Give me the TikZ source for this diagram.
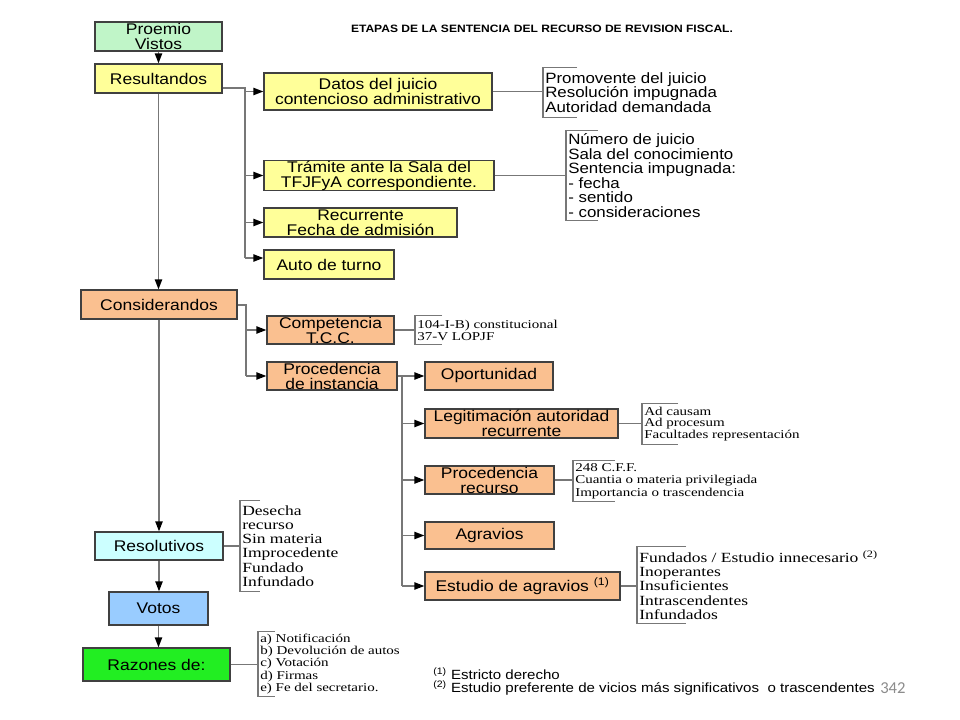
\documentclass[tikz,border=0pt]{standalone}
\usepackage{fontspec}
\setmainfont{Liberation Sans}
\newfontfamily\sfb[FakeStretch=1.13]{Liberation Sans}
\newfontfamily\srb[FakeStretch=1.25]{Liberation Serif}
\newfontfamily\pnum{Carlito}
\usetikzlibrary{arrows.meta}
\definecolor{boxline}{HTML}{404040}
\definecolor{linegray}{HTML}{777777}
\definecolor{ylw}{HTML}{FFFF99}
\definecolor{org}{HTML}{FAC090}
\definecolor{mint}{HTML}{C0F5C8}
\definecolor{cyanl}{HTML}{CCFFFF}
\definecolor{bluel}{HTML}{99CCFF}
\definecolor{grn}{HTML}{22EE22}
\definecolor{pgray}{HTML}{8C8C8C}
\begin{document}
\begin{tikzpicture}[x=0.75pt,y=-0.75pt,
  box/.style={draw=boxline,line width=1pt,inner sep=0pt,align=center,
    font=\sfb\fontsize{11.6}{11.25}\selectfont},
  conn/.style={draw=linegray,line width=1.1pt},
  arr/.style={conn,-{Triangle[length=7.5pt,width=5.5pt,color=black]}},
  lst/.style={anchor=west,align=left,inner xsep=1.5pt,inner ysep=0pt},
  sanslist/.style={lst,font=\sfb\fontsize{11.2}{10.9}\selectfont},
  serifbig/.style={lst,font=\srb\fontsize{10.5}{10.7}\selectfont},
  serifsmall/.style={lst,font=\srb\fontsize{9}{9}\selectfont}]
\fill[white] (0,0) rectangle (960,720);
\useasboundingbox (0,0) rectangle (960,720);

% title
\node[inner sep=0,font=\sfb\bfseries\fontsize{8}{9.6}\selectfont] (title) at (542,29) {ETAPAS DE LA SENTENCIA DEL RECURSO DE REVISION FISCAL.};

% main column
\node[box,fill=mint,minimum width=95.25pt,minimum height=21.75pt] (proemio) at (158.5,36.5) {Proemio\\Vistos};
\node[box,fill=ylw,minimum width=95.25pt,minimum height=21.75pt] (result) at (158.5,78.5) {Resultandos};
\node[box,fill=org,minimum width=117pt,minimum height=21.75pt] (consid) at (159,304.5) {Considerandos};
\node[box,fill=cyanl,minimum width=96pt,minimum height=21pt] (resol) at (159,546) {Resolutivos};
\node[box,fill=bluel,minimum width=74.25pt,minimum height=24.75pt] (votos) at (158.5,608.5) {Votos};
\node[box,fill=grn,minimum width=110.25pt,minimum height=24.75pt] (razones) at (156.5,664.5) {Razones de:};

% resultandos branch
\node[box,fill=ylw,minimum width=171pt,minimum height=27.75pt] (datos) at (378,91.5) {Datos del juicio\\contencioso administrativo};
\node[box,fill=ylw,minimum width=172.5pt,minimum height=21.75pt] (tramite) at (379,175.5) {Trámite ante la Sala del\\TFJFyA correspondiente.};
\node[box,fill=ylw,minimum width=144.75pt,minimum height=21.75pt] (recurr) at (360.5,222.5) {Recurrente\\Fecha de admisión};
\node[box,fill=ylw,minimum width=97.5pt,minimum height=21.75pt] (auto) at (329,264.5) {Auto de turno};

% considerandos branch
\node[box,fill=org,minimum width=95.25pt,minimum height=21pt] (compet) at (330.5,330) {Competencia\\T.C.C.};
\node[box,fill=org,minimum width=97.5pt,minimum height=21pt] (proced) at (332,376) {Procedencia\\de instancia};
\node[box,fill=org,minimum width=96pt,minimum height=21pt] (oport) at (489,376) {Oportunidad};
\node[box,fill=org,minimum width=144.75pt,minimum height=21.75pt] (legit) at (521.5,423.5) {Legitimación autoridad\\recurrente};
\node[box,fill=org,minimum width=96.75pt,minimum height=21pt] (procrec) at (489.5,480) {Procedencia\\recurso};
\node[box,fill=org,minimum width=96.75pt,minimum height=20.25pt] (agrav) at (489.5,535.5) {Agravios};
\node[box,fill=org,minimum width=146.25pt,minimum height=21pt] (estudio) at (522.5,586) {Estudio de agravios \textsuperscript{(1)}};

% lists
\node[sanslist,minimum height=36.75pt] (dlist) at (543,92.5) {Promovente del juicio\\Resolución impugnada\\Autoridad demandada};
\node[sanslist,minimum height=66.75pt] (tlist) at (566,175.5) {Número de juicio\\Sala del conocimiento\\Sentencia impugnada:\\- fecha\\- sentido\\- consideraciones};
\node[serifsmall,minimum height=21pt] (clist) at (415,330) {104-I-B) constitucional\\37-V LOPJF};
\node[serifsmall,font=\srb\fontsize{9}{8.8}\selectfont,minimum height=30pt] (llist) at (642,424) {Ad causam\\Ad procesum\\Facultades representación};
\node[serifsmall,font=\srb\fontsize{9}{9.4}\selectfont,minimum height=30pt] (plist) at (573,481) {248 C.F.F.\\Cuantia o materia privilegiada\\Importancia o trascendencia};
\node[serifbig,font=\srb\fontsize{10.5}{10.65}\selectfont,minimum height=57pt] (elist) at (637,585) {Fundados / Estudio innecesario \textsuperscript{(2)}\\Inoperantes\\Insuficientes\\Intrascendentes\\Infundados};
\node[serifbig,minimum height=67.5pt] (rlist) at (240,546) {Desecha\\recurso\\Sin materia\\Improcedente\\Fundado\\Infundado};
\node[serifsmall,font=\srb\fontsize{9}{9.15}\selectfont,minimum height=48pt] (zlist) at (258,664) {a) Notificación\\b) Devolución de autos\\c) Votación\\d) Firmas\\e) Fe del secretario.};

% footnotes and page number
\node[anchor=west,align=left,inner sep=0pt,font=\sfb\fontsize{10}{9.75}\selectfont] (fn) at (433,681.5) {\textsuperscript{(1)} Estricto derecho\\\textsuperscript{(2)} Estudio preferente de vicios más significativos\ \ o trascendentes};
\node[anchor=west,inner sep=0pt,font=\pnum\fontsize{12.5}{15}\selectfont,text=pgray] (pg) at (880,688) {342};

% main vertical arrows
\draw[arr] (proemio.south |- proemio.south) -- (proemio.south |- result.north);
\draw[arr] (result.south) -- (result.south |- consid.north);
\draw[arr] (consid.south) -- (consid.south |- resol.north);
\draw[arr] (resol.south) -- (resol.south |- votos.north);
\draw[arr] (votos.south) -- (votos.south |- razones.north);

% resultandos branch connectors
\coordinate (r1) at (245,88);
\coordinate (r2) at (245,258);
\draw[conn] (result.east |- r1) -- (r1) -- (r2);
\draw[arr] (r1 |- datos) -- (datos.west);
\draw[arr] (r1 |- tramite) -- (tramite.west);
\draw[arr] (r1 |- recurr) -- (recurr.west);
\draw[arr] (r2) -- (r2 -| auto.west);

% considerandos branch connectors
\coordinate (c1) at (246,305);
\draw[conn] (consid.east |- c1) -- (c1) -- (c1 |- proced);
\draw[arr] (c1 |- compet) -- (compet.west);
\draw[arr] (c1 |- proced) -- (proced.west);

\coordinate (p1) at (402,376);
\draw[conn] (proced.east |- p1) -- (p1) -- (p1 |- estudio);
\draw[arr] (p1) -- (oport.west);
\draw[arr] (p1 |- legit) -- (legit.west);
\draw[arr] (p1 |- procrec) -- (procrec.west);
\draw[arr] (p1 |- agrav) -- (agrav.west);
\draw[arr] (p1 |- estudio) -- (estudio.west);

% brackets
\draw[conn] (datos.east) -- (datos.east -| dlist.west);
\draw[conn] (dlist.north west) ++(34,0) -- (dlist.north west) -- (dlist.south west) -- ++(34,0);
\draw[conn] (tramite.east) -- (tramite.east -| tlist.west);
\draw[conn] (tlist.north west) ++(32,0) -- (tlist.north west) -- (tlist.south west) -- ++(32,0);
\draw[conn] (compet.east) -- (compet.east -| clist.west);
\draw[conn] (clist.north west) ++(27,0) -- (clist.north west) -- (clist.south west) -- ++(27,0);
\draw[conn] (legit.east) -- (legit.east -| llist.west);
\draw[conn] (llist.north west) ++(36,0) -- (llist.north west) -- (llist.south west) -- ++(36,0);
\draw[conn] (procrec.east) -- (procrec.east -| plist.west);
\draw[conn] (plist.north west) ++(42,0) -- (plist.north west) -- (plist.south west) -- ++(42,0);
\draw[conn] (estudio.east) -- (estudio.east -| elist.west);
\draw[conn] (elist.north west) ++(49,0) -- (elist.north west) -- (elist.south west) -- ++(49,0);
\draw[conn] (resol.east) -- (resol.east -| rlist.west);
\draw[conn] (rlist.north west) ++(20,0) -- (rlist.north west) -- (rlist.south west) -- ++(20,0);
\draw[conn] (razones.east) -- (razones.east -| zlist.west);
\draw[conn] (zlist.north west) ++(17,0) -- (zlist.north west) -- (zlist.south west) -- ++(17,0);
\end{tikzpicture}
\end{document}
